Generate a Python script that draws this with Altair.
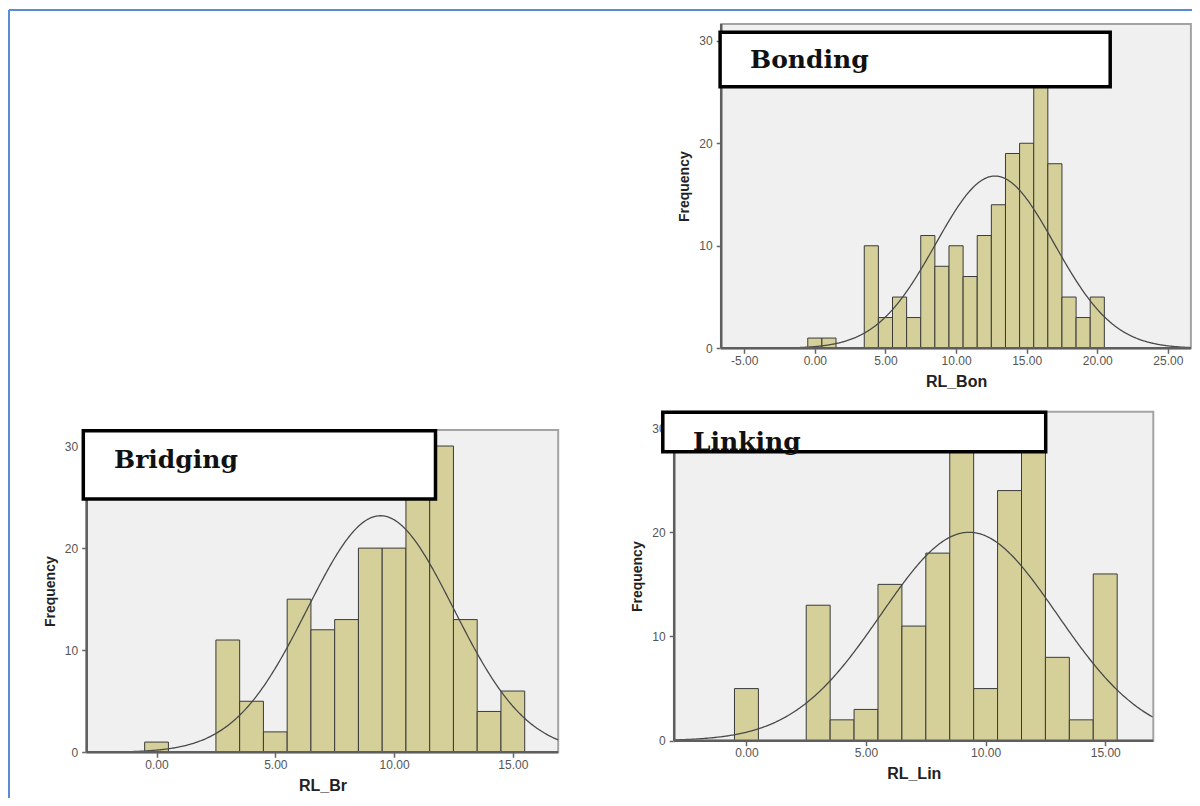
import altair as alt
import pandas as pd

W, H = 1184, 790

# ---------------- data ----------------
freq_ticks = [0, 10, 20, 30]

bon_centers = [0, 1, 4, 5, 6, 7, 8, 9, 10, 11, 12, 13, 14, 15, 16, 17, 18, 19, 20]
bon_counts = [1, 1, 10, 3, 5, 3, 11, 8, 10, 7, 11, 14, 19, 20, 26, 18, 5, 3, 5]
bon_ticks = [-5, 0, 5, 10, 15, 20, 25]
bon_curve = {"mean": 12.76, "sd": 4.2, "peak": 16.8}

br_centers = [0, 3, 4, 5, 6, 7, 8, 9, 10, 11, 12, 13, 14, 15]
br_counts = [1, 11, 5, 2, 15, 12, 13, 20, 20, 27, 30, 13, 4, 6]
br_ticks = [0, 5, 10, 15]
br_curve = {"mean": 9.43, "sd": 3.08, "peak": 23.17}

lin_centers = [0, 3, 4, 5, 6, 7, 8, 9, 10, 11, 12, 13, 14, 15]
lin_counts = [5, 13, 2, 3, 15, 11, 18, 30, 5, 24, 30, 8, 2, 16]
lin_ticks = [0, 5, 10, 15]
lin_curve = {"mean": 9.31, "sd": 3.68, "peak": 20.0}

SANS = "Liberation Sans"
SERIF = "DejaVu Serif"
BAR_FILL = "#d5d09a"


def panel(title, xlabel, centers, counts, xticks, curve, xdom, ymax,
          xr, yr, box, text_pos):
    xs = alt.Scale(domain=xdom, range=xr, nice=False, zero=False)
    ys = alt.Scale(domain=[0, ymax], range=yr, nice=False, zero=False)
    xaxis = alt.Axis(
        orient="bottom", offset=yr[0] - H, values=xticks,
        labelExpr="(datum.value < 0 ? '-' : '') + format(abs(datum.value), '.2f')",
        title=xlabel, domain=False, grid=False, tickSize=5, tickColor="#666",
        tickWidth=1.5, labelFont=SANS, labelFontSize=12, labelColor="#555",
        labelPadding=2, labelFlush=False, labelOverlap=False,
        titleFont=SANS, titleFontSize=16, titleFontWeight="bold",
        titleColor="#222", titlePadding=7,
    )
    yaxis = alt.Axis(
        orient="left", offset=-xr[0], values=freq_ticks, format="d",
        title="Frequency", domain=False, grid=False, tickSize=5,
        tickColor="#666", tickWidth=1.5, labelFont=SANS, labelFontSize=12,
        labelColor="#555", labelPadding=4, labelFlush=False,
        labelOverlap=False, titleFont=SANS, titleFontSize=14,
        titleFontWeight="bold", titleColor="#222", titlePadding=7,
    )
    frame_df = pd.DataFrame({"x0": [xdom[0]], "x1": [xdom[1]],
                             "y0": [0], "y1": [ymax]})
    bg = alt.Chart(frame_df).mark_rect(
        fill="#f0f0f0", stroke="#a3a3a3", strokeWidth=2
    ).encode(
        x=alt.X("x0:Q", scale=xs, axis=xaxis), x2="x1:Q",
        y=alt.Y("y0:Q", scale=ys, axis=yaxis), y2="y1:Q",
    )
    left_line = alt.Chart(frame_df).mark_rule(
        color="#5e5e5e", strokeWidth=2.5
    ).encode(
        x=alt.X("x0:Q", scale=xs, axis=xaxis),
        y=alt.Y("y0:Q", scale=ys, axis=yaxis), y2="y1:Q",
    )
    bottom_line = alt.Chart(frame_df).mark_rule(
        color="#5e5e5e", strokeWidth=2.5
    ).encode(
        x=alt.X("x0:Q", scale=xs, axis=xaxis), x2="x1:Q",
        y=alt.Y("y0:Q", scale=ys, axis=yaxis),
    )
    bars = alt.Chart(pd.DataFrame({"center": centers, "count": counts})).transform_calculate(
        lo="datum.center - 0.5", hi="datum.center + 0.5"
    ).mark_rect(fill=BAR_FILL, stroke="#3a3a3a", strokeWidth=1).encode(
        x=alt.X("lo:Q", scale=xs, axis=xaxis), x2="hi:Q",
        y=alt.Y("count:Q", scale=ys, axis=yaxis), y2=alt.Y2(datum=0),
    )
    line = alt.Chart(
        alt.sequence(xdom[0], xdom[1] + 0.001, 0.05, as_="v")
    ).transform_calculate(
        f=f"{curve['peak']} * exp(-0.5 * pow((datum.v - {curve['mean']}) / {curve['sd']}, 2))"
    ).mark_line(color="#4a4a4a", strokeWidth=1.3).encode(
        x=alt.X("v:Q", scale=xs, axis=xaxis),
        y=alt.Y("f:Q", scale=ys, axis=yaxis),
    )
    label_df = pd.DataFrame({"t": [title]})
    boxmark = alt.Chart(label_df).mark_rect(
        fill="white", stroke="black", strokeWidth=3.5
    ).encode(
        x=alt.value(box[0]), x2=alt.value(box[1]),
        y=alt.value(box[2]), y2=alt.value(box[3]),
    )
    txt = alt.Chart(label_df).mark_text(
        align="left", baseline="alphabetic", font=SERIF, fontWeight="bold",
        fontSize=25, color="#111"
    ).encode(
        x=alt.value(text_pos[0]), y=alt.value(text_pos[1]), text="t:N",
    )
    return alt.layer(bg, bars, line, left_line, bottom_line, boxmark, txt)


bonding = panel("Bonding", "RL_Bon", bon_centers, bon_counts, bon_ticks, bon_curve,
                [-6.63, 26.63], 31.63, [713.2, 1182.9], [340.3, 16.0],
                (712.1, 1102.2, 24.3, 78.7), (742, 60))
bridging = panel("Bridging", "RL_Br", br_centers, br_counts, br_ticks, br_curve,
                 [-2.94, 16.91], 31.57, [78.7, 550.2], [744.3, 422.0],
                 (75.3, 427.5, 422.7, 491.0), (106, 460))
linking = panel("Linking", "RL_Lin", lin_centers, lin_counts, lin_ticks, lin_curve,
                [-3.02, 17.01], 31.57, [666.2, 1145.3], [732.7, 403.7],
                (654.8, 1037.7, 404.3, 443.7), (685, 442))

frame_df = pd.DataFrame({"k": [0]})
blue_top = alt.Chart(frame_df).mark_rule(color="#5b8bd4", strokeWidth=2).encode(
    x=alt.value(1), x2=alt.value(W), y=alt.value(2)
)
blue_left = alt.Chart(frame_df).mark_rule(color="#5b8bd4", strokeWidth=2).encode(
    x=alt.value(1), y=alt.value(2), y2=alt.value(H)
)

chart = alt.layer(bonding, bridging, linking, blue_top, blue_left).resolve_scale(
    x="independent", y="independent"
).properties(
    width=W, height=H, padding=0, autosize=alt.AutoSizeParams(type="none"),
    background="white",
).configure_view(stroke=None)

chart.save("out.html", embed_options={"renderer": "svg", "actions": False})
